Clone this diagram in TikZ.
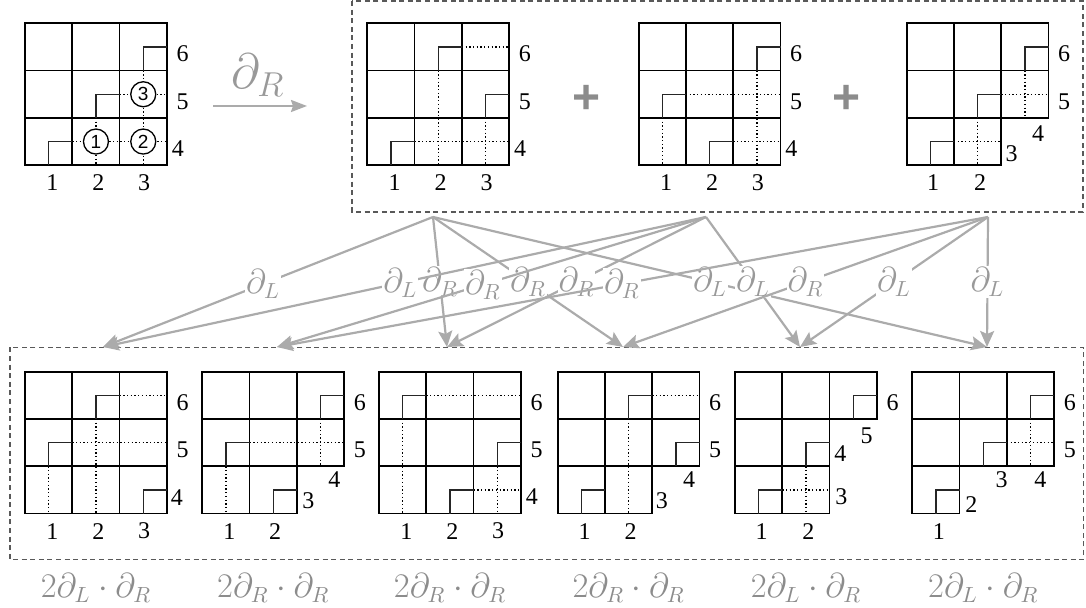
\documentclass[tikz,border=0pt]{standalone}
\usepackage[no-math]{fontspec}
\setmainfont{Liberation Serif}
\newfontfamily\hlv{Liberation Sans}
\usetikzlibrary{arrows.meta, positioning}
\tikzset{
  cell/.style={draw=black, line width=0.85pt, line join=miter},
  hook/.style={draw=black!85, line width=0.7pt},
  trail/.style={draw=black, line width=0.65pt, dash pattern=on 0.65pt off 1.2pt},
  num/.style={font=\fontsize{12}{14}\selectfont\rmfamily, inner sep=0pt},
  ring/.style={circle, draw=black, line width=0.65pt, fill=white, minimum size=12.5pt,
               inner sep=0pt, font=\fontsize{9.5}{10}\selectfont\hlv},
  dashbox/.style={draw=black!65, line width=0.7pt, dash pattern=on 2.5pt off 1.8pt},
  der/.style={draw=black!33, line width=1.1pt, -{Stealth[length=8pt, width=7pt, inset=1.5pt]}},
  dlab/.style={fill=white, inner sep=0.5pt, text=black!40, font=\fontsize{16}{16}\selectfont},
  coef/.style={text=black!45, font=\fontsize{16}{16}\selectfont},
  plus/.style={text=black!45, font=\fontsize{24}{24}\selectfont\bfseries\hlv},
  % cell outlines: full 3x3, and with the corner cells taken away
  full/.style={insert path={(0,0) rectangle (3,3) (1,0) -- (1,3) (2,0) -- (2,3) (0,1) -- (3,1) (0,2) -- (3,2)}},
  cut/.style={insert path={(0,0) -- (3,0) -- (3,2) -- (2,2) -- (2,3) -- (0,3) -- cycle
              (1,0) -- (1,3) (2,0) -- (2,2) (0,1) -- (3,1) (0,2) -- (2,2)}},
  cutmid/.style={insert path={(0,0) -- (3,0) -- (3,1) -- (2,1) -- (2,3) -- (0,3) -- cycle
              (1,0) -- (1,3) (2,0) -- (2,1) (0,1) -- (2,1) (0,2) -- (2,2)}},
  cutlow/.style={insert path={(0,0) -- (3,0) -- (3,2) -- (1,2) -- (1,3) -- (0,3) -- cycle
              (1,0) -- (1,2) (2,0) -- (2,2) (0,1) -- (3,1) (0,2) -- (1,2)}}
}

\begin{document}
\begin{tikzpicture}[x=0.5pt, y=-0.5pt]
\useasboundingbox (0,0) rectangle (1086,608);

% starting diagram
\begin{scope}[shift={(25,23.3)}, x=23.65pt, y=-23.65pt]
  \draw[cell, full];
  \foreach \c/\r in {2/0,1/1,0/2} \draw[hook] (\c+0.5,\r+1) |- (\c+1,\r+0.5);
  \draw[trail] (1,2.5) -- (3,2.5) (1.5,2) -- (1.5,3) (2.5,1) -- (2.5,3) (2,1.5) -- (3,1.5);
  \node[ring] (p1) at (1.5,2.5) {1};
  \node[ring] (p2) at (2.5,2.5) {2};
  \node[ring] (p3) at (2.5,1.5) {3};
  \foreach \n/\x/\y in {1/0.58/3.37, 2/1.55/3.37, 3/2.52/3.37, 4/3.23/2.64, 5/3.33/1.65, 6/3.33/0.65}
    \node[num] (g0-\n) at (\x,\y) {\n};
\end{scope}

\coordinate (r0) at (213,106);
\coordinate (r1) at (307,106);
\draw[der, -{Stealth[length=8pt, width=6pt, inset=1pt]}] (r0) -- (r1);
\node[text=black!40, font=\fontsize{23}{23}\selectfont] (rl) at (258,75) {$\partial_R$};

% first derivative
\draw[dashbox] (352,1) rectangle (1083,212);
\begin{scope}[shift={(367.3,23.3)}, x=23.65pt, y=-23.65pt]
  \draw[cell, full];
  \foreach \c/\r in {1/0,2/1,0/2} \draw[hook] (\c+0.5,\r+1) |- (\c+1,\r+0.5);
  \draw[trail] (2,0.5) -- (3,0.5) (1,2.5) -- (3,2.5) (1.5,1) -- (1.5,3) (2.5,2) -- (2.5,3);
  \foreach \n/\x/\y in {1/0.58/3.37, 2/1.55/3.37, 3/2.52/3.37, 4/3.23/2.64, 5/3.33/1.65, 6/3.33/0.65}
    \node[num] (a1-\n) at (\x,\y) {\n};
\end{scope}
\node[plus] (pl1) at (586.7,99) {+};
\begin{scope}[shift={(638.7,23.3)}, x=23.65pt, y=-23.65pt]
  \draw[cell, full];
  \foreach \c/\r in {2/0,0/1,1/2} \draw[hook] (\c+0.5,\r+1) |- (\c+1,\r+0.5);
  \draw[trail] (1,1.5) -- (3,1.5) (0.5,2) -- (0.5,3) (2.5,1) -- (2.5,3) (2,2.5) -- (3,2.5);
  \foreach \n/\x/\y in {1/0.58/3.37, 2/1.55/3.37, 3/2.52/3.37, 4/3.23/2.64, 5/3.33/1.65, 6/3.33/0.65}
    \node[num] (a2-\n) at (\x,\y) {\n};
\end{scope}
\node[plus] (pl2) at (846.7,99) {+};
\begin{scope}[shift={(906.7,23.3)}, x=23.65pt, y=-23.65pt]
  \draw[cell, cut];
  \foreach \c/\r in {2/0,1/1,0/2} \draw[hook] (\c+0.5,\r+1) |- (\c+1,\r+0.5);
  \draw[trail] (2.5,1) -- (2.5,2) (2,1.5) -- (3,1.5) (1,2.5) -- (2,2.5) (1.5,2) -- (1.5,3);
  \foreach \n/\x/\y in {1/0.56/3.37, 2/1.55/3.37, 3/2.22/2.75, 4/2.78/2.33, 5/3.33/1.65, 6/3.33/0.65}
    \node[num] (a3-\n) at (\x,\y) {\n};
\end{scope}

% second derivative
\draw[dashbox] (10,347.5) rectangle (1083.5,559.5);
\begin{scope}[shift={(25,371.7)}, x=23.65pt, y=-23.65pt]
  \draw[cell, full];
  \foreach \c/\r in {1/0,0/1,2/2} \draw[hook] (\c+0.5,\r+1) |- (\c+1,\r+0.5);
  \draw[trail] (2,0.5) -- (3,0.5) (1.5,1) -- (1.5,3) (1,1.5) -- (3,1.5) (0.5,2) -- (0.5,3);
  \foreach \n/\x/\y in {1/0.58/3.37, 2/1.55/3.37, 3/2.52/3.37, 4/3.21/2.67, 5/3.33/1.65, 6/3.33/0.65}
    \node[num] (b1-\n) at (\x,\y) {\n};
\end{scope}
\begin{scope}[shift={(202.3,371.7)}, x=23.65pt, y=-23.65pt]
  \draw[cell, cut];
  \foreach \c/\r in {2/0,0/1,1/2} \draw[hook] (\c+0.5,\r+1) |- (\c+1,\r+0.5);
  \draw[trail] (2.5,1) -- (2.5,2) (1,1.5) -- (3,1.5) (0.5,2) -- (0.5,3);
  \foreach \n/\x/\y in {1/0.57/3.37, 2/1.54/3.37, 3/2.24/2.73, 4/2.79/2.29, 5/3.33/1.65, 6/3.33/0.65}
    \node[num] (b2-\n) at (\x,\y) {\n};
\end{scope}
\begin{scope}[shift={(379,371.7)}, x=23.65pt, y=-23.65pt]
  \draw[cell, full];
  \foreach \c/\r in {0/0,2/1,1/2} \draw[hook] (\c+0.5,\r+1) |- (\c+1,\r+0.5);
  \draw[trail] (1,0.5) -- (3,0.5) (0.5,1) -- (0.5,3) (2.5,2) -- (2.5,3) (2,2.5) -- (3,2.5);
  \foreach \n/\x/\y in {1/0.58/3.37, 2/1.55/3.37, 3/2.52/3.37, 4/3.23/2.64, 5/3.33/1.65, 6/3.33/0.65}
    \node[num] (b3-\n) at (\x,\y) {\n};
\end{scope}
\begin{scope}[shift={(557.7,371.7)}, x=23.65pt, y=-23.65pt]
  \draw[cell, cut];
  \foreach \c/\r in {1/0,2/1,0/2} \draw[hook] (\c+0.5,\r+1) |- (\c+1,\r+0.5);
  \draw[trail] (2,0.5) -- (3,0.5) (1.5,1) -- (1.5,3);
  \foreach \n/\x/\y in {1/0.57/3.37, 2/1.54/3.37, 3/2.2/2.73, 4/2.78/2.29, 5/3.33/1.65, 6/3.33/0.65}
    \node[num] (b4-\n) at (\x,\y) {\n};
\end{scope}
\begin{scope}[shift={(735,371.7)}, x=23.65pt, y=-23.65pt]
  \draw[cell, cutmid];
  \foreach \c/\r in {2/0,1/1,0/2} \draw[hook] (\c+0.5,\r+1) |- (\c+1,\r+0.5);
  \draw[trail] (1.5,2) -- (1.5,3) (1,2.5) -- (2,2.5);
  \foreach \n/\x/\y in {1/0.56/3.37, 2/1.55/3.37, 3/2.25/2.65, 4/2.23/1.73, 5/2.78/1.35, 6/3.33/0.65}
    \node[num] (b5-\n) at (\x,\y) {\n};
\end{scope}
\begin{scope}[shift={(912.3,371.7)}, x=23.65pt, y=-23.65pt]
  \draw[cell, cutlow];
  \foreach \c/\r in {2/0,1/1,0/2} \draw[hook] (\c+0.5,\r+1) |- (\c+1,\r+0.5);
  \draw[trail] (2.5,1) -- (2.5,2) (2,1.5) -- (3,1.5);
  \foreach \n/\x/\y in {1/0.56/3.37, 2/1.25/2.8, 3/1.89/2.29, 4/2.71/2.29, 5/3.33/1.65, 6/3.33/0.65}
    \node[num] (b6-\n) at (\x,\y) {\n};
\end{scope}

% coefficients
\node[coef] (c1) at (96,588) {$2\partial_L\cdot\partial_R$};
\node[coef] (c2) at (273.3,588) {$2\partial_R\cdot\partial_R$};
\node[coef] (c3) at (450,588) {$2\partial_R\cdot\partial_R$};
\node[coef] (c4) at (628.7,588) {$2\partial_R\cdot\partial_R$};
\node[coef] (c5) at (806,588) {$2\partial_L\cdot\partial_R$};
\node[coef] (c6) at (983.3,588) {$2\partial_L\cdot\partial_R$};

% derivative arrows
\coordinate (s1) at (433,217);
\coordinate (s2) at (706,217);
\coordinate (s3) at (988,217);
\coordinate (t1) at (103,347);
\coordinate (t2) at (277,347);
\coordinate (t3) at (447,347);
\coordinate (t4) at (623,347);
\coordinate (t5) at (800,347);
\coordinate (t6) at (987,347);
\draw[der] (s1) -- node[dlab, pos=0.515]{$\partial_L$} (t1);
\draw[der] (s1) -- node[dlab]{$\partial_R$} (t3);
\draw[der] (s1) -- node[dlab]{$\partial_R$} (t4);
\draw[der] (s1) -- node[dlab]{$\partial_L$} (t6);
\draw[der] (s2) -- node[dlab, pos=0.507]{$\partial_L$} (t1);
\draw[der] (s2) -- node[dlab, pos=0.52]{$\partial_R$} (t2);
\draw[der] (s2) -- node[dlab]{$\partial_R$} (t3);
\draw[der] (s2) -- node[dlab]{$\partial_L$} (t5);
\draw[der] (s3) -- node[dlab, pos=0.515]{$\partial_R$} (t2);
\draw[der] (s3) -- node[dlab]{$\partial_R$} (t4);
\draw[der] (s3) -- node[dlab]{$\partial_L$} (t5);
\draw[der] (s3) -- node[dlab]{$\partial_L$} (t6);
\end{tikzpicture}
\end{document}
